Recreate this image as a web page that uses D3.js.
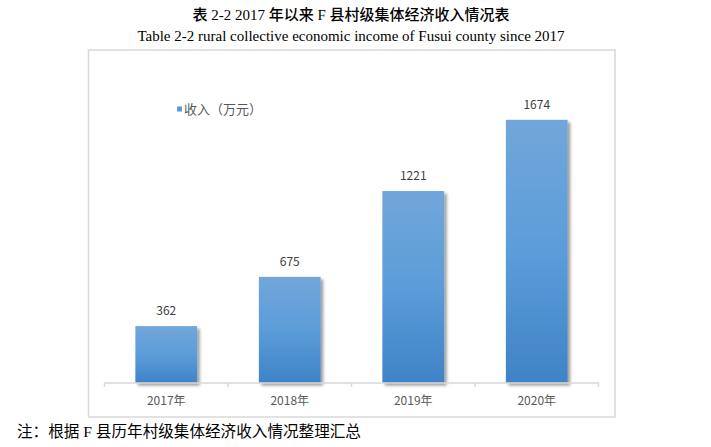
<!DOCTYPE html>
<html>
<head>
<meta charset="utf-8">
<script src="https://cdn.jsdelivr.net/npm/d3@7/dist/d3.min.js"></script>
<style>
  html, body { margin: 0; padding: 0; background: #fff; }
  svg { display: block; }
</style>
</head>
<body>
<svg id="chart" width="711" height="447"></svg>
<script>
const categories = ["2017年", "2018年", "2019年", "2020年"];
const values = [362, 675, 1221, 1674];
const seriesName = "收入（万元）";
const titleLine1 = "表 2-2 2017 年以来 F 县村级集体经济收入情况表";
const titleLine2 = "Table 2-2 rural collective economic income of Fusui county since 2017";
const note = "注：根据 F 县历年村级集体经济收入情况整理汇总";

const svg = d3.select("#chart");
const cjkSerif = "'Liberation Serif', 'Noto Sans CJK SC', serif";
const uiFont = "'Noto Sans CJK SC', 'DejaVu Sans', sans-serif";

const defs = svg.append("defs");
const grad = defs.append("linearGradient").attr("id", "barGrad")
  .attr("x1", 0).attr("y1", 0).attr("x2", 0).attr("y2", 1);
grad.append("stop").attr("offset", "0%").attr("stop-color", "#72a6da");
grad.append("stop").attr("offset", "50%").attr("stop-color", "#5b9dd9");
grad.append("stop").attr("offset", "100%").attr("stop-color", "#3f83c6");
const filt = defs.append("filter").attr("id", "shadow")
  .attr("x", "-20%").attr("y", "-10%").attr("width", "150%").attr("height", "130%");
filt.append("feDropShadow").attr("dx", 2.5).attr("dy", 2.5)
  .attr("stdDeviation", 1.6).attr("flood-color", "#000").attr("flood-opacity", 0.4);

// Titles
svg.append("text").attr("x", 351).attr("y", 20).attr("text-anchor", "middle")
  .style("font-family", cjkSerif).style("font-size", "15px").style("font-weight", "500")
  .attr("fill", "#000").text(titleLine1);
svg.append("text").attr("x", 351).attr("y", 41).attr("text-anchor", "middle")
  .style("font-family", "'Liberation Serif', serif").style("font-size", "15px")
  .attr("fill", "#000").text(titleLine2);

// Frame
svg.append("rect").attr("x", 88.5).attr("y", 50).attr("width", 526.5).attr("height", 367)
  .attr("fill", "#fff").attr("stroke", "#d9d9d9").attr("stroke-width", 1.5);

// Scales
const x = d3.scaleBand().domain(categories).range([104.5, 598.5])
  .paddingInner(0.5).paddingOuter(0.25);
const y = d3.scaleLinear().domain([0, 1800]).range([383, 100]);

// Bars
svg.append("g").selectAll("rect").data(values).join("rect")
  .attr("x", (d, i) => x(categories[i]))
  .attr("y", d => y(d))
  .attr("width", x.bandwidth())
  .attr("height", d => y(0) - y(d))
  .attr("fill", "url(#barGrad)")
  .attr("filter", "url(#shadow)");

// Axis
const xAxis = d3.axisBottom(x).tickSize(0).tickPadding(13);
const gx = svg.append("g").attr("transform", `translate(0,${y(0)})`).call(xAxis);
gx.select(".domain").attr("stroke", "#d9d9d9").attr("stroke-width", 1.5)
  .attr("d", `M${x.range()[0]},4V0H${x.range()[1]}V4`);
gx.selectAll(".tick text").attr("fill", "#595959")
  .style("font-family", uiFont).style("font-size", "12px");
// boundary ticks
const step = x.step();
const bounds = d3.range(categories.length + 1).map(i => x.range()[0] + i * step);
gx.selectAll(".bound").data(bounds.slice(1, -1)).join("line").attr("class", "bound")
  .attr("x1", d => d).attr("x2", d => d).attr("y1", 0).attr("y2", 4)
  .attr("stroke", "#d9d9d9").attr("stroke-width", 1.5);

// Data labels
svg.append("g").selectAll("text").data(values).join("text")
  .attr("x", (d, i) => x(categories[i]) + x.bandwidth() / 2)
  .attr("y", d => y(d) - 11)
  .attr("text-anchor", "middle")
  .attr("fill", "#404040")
  .style("font-family", uiFont).style("font-size", "12px")
  .text(d => d);

// Legend
svg.append("rect").attr("x", 177).attr("y", 106.5).attr("width", 5).attr("height", 5)
  .attr("fill", "#5b9bd5");
svg.append("text").attr("x", 184).attr("y", 113.5)
  .attr("fill", "#595959").style("font-family", uiFont).style("font-size", "13px")
  .text(seriesName);

// Note
svg.append("text").attr("x", 17).attr("y", 437)
  .style("font-family", cjkSerif).style("font-size", "15.6px").attr("fill", "#000")
  .text(note);
</script>
</body>
</html>
